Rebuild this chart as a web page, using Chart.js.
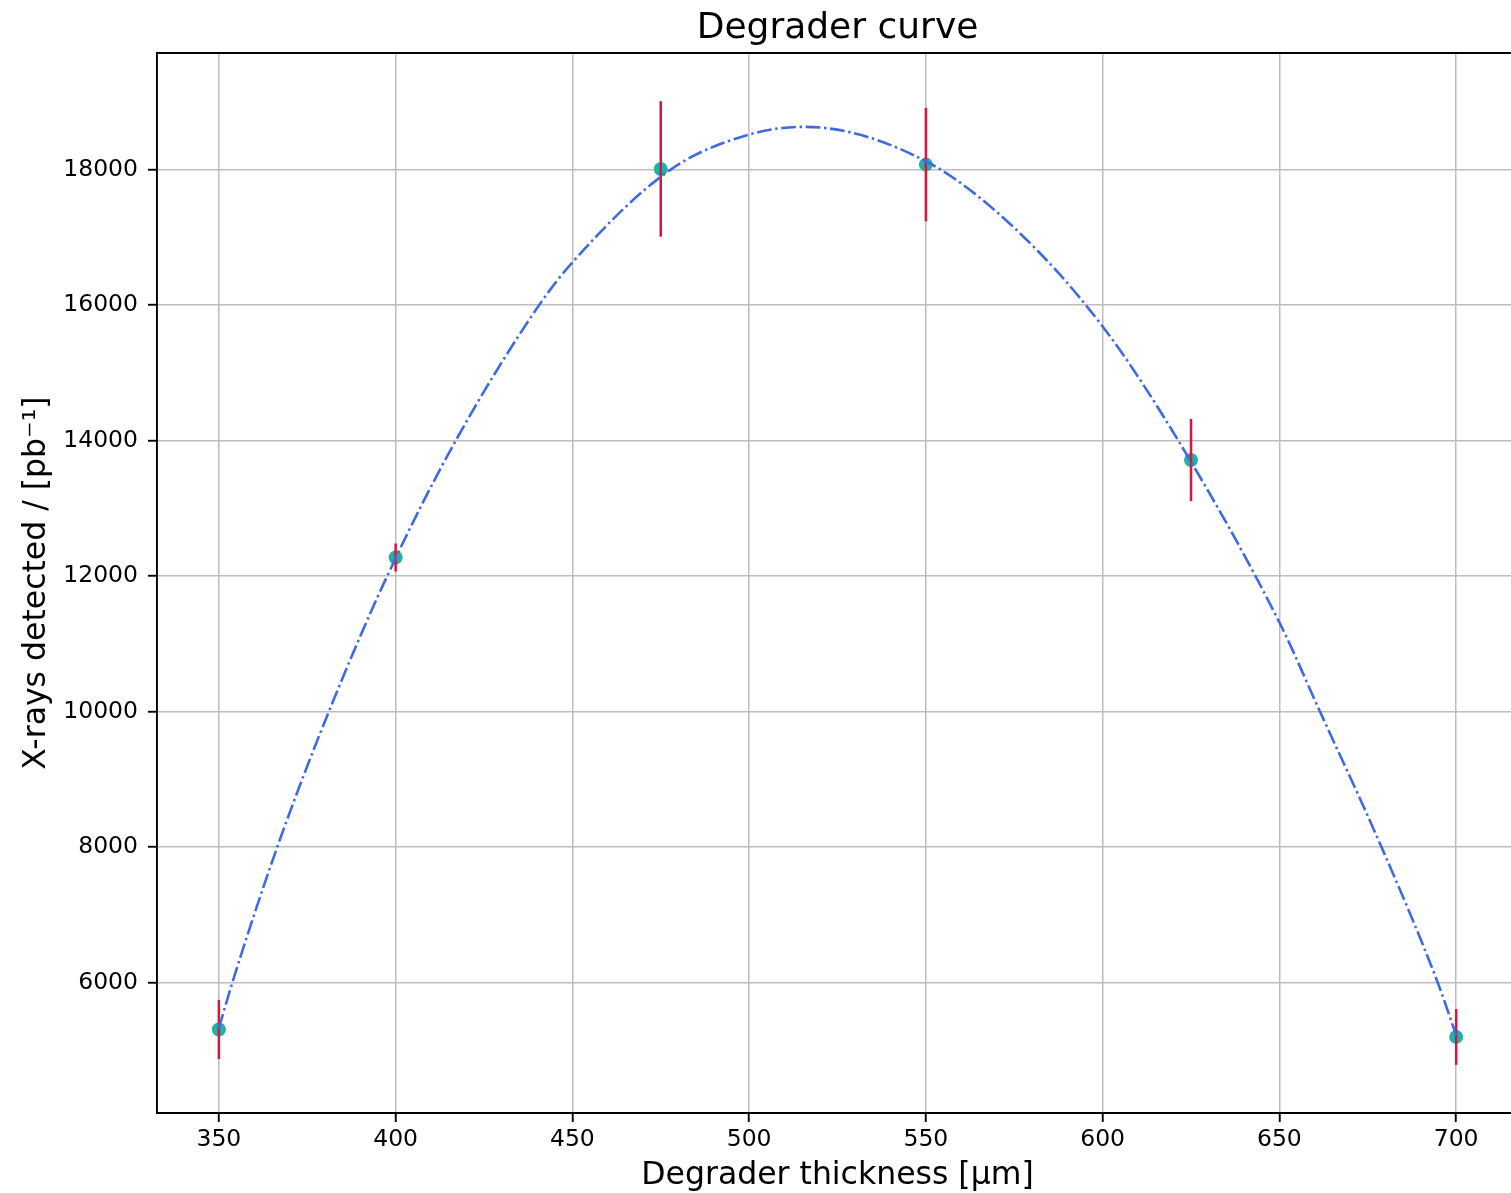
<!DOCTYPE html>
<html>
<head>
<meta charset="utf-8">
<script src="https://cdn.jsdelivr.net/npm/chart.js@4/dist/chart.umd.min.js"></script>
<style>
  html, body { margin: 0; padding: 0; background: #fff; overflow: hidden; }
  #wrap { width: 1511px; height: 1193px; overflow: hidden; }
  #chart { display: block; }
</style>
</head>
<body>
<div id="wrap"><canvas id="chart" width="1518" height="1193"></canvas></div>
<script>
// Measured points: degrader thickness (µm), detected X-rays and their uncertainties
const thickness = [350, 400, 475, 550, 625, 700];
const xrays = [5310, 12275, 18010, 18074, 13714, 5200];
const xraysErr = [437, 207, 1000, 837, 606, 412];

// Fitted curve samples
const fitX = [350, 353.8, 366.5, 381.1, 397.6, 417, 440.6, 450, 477.8, 500, 515.6,
  550, 575, 600, 621.4, 650, 661.5, 678.9, 694.8, 700];
const fitY = [5330, 6000, 8000, 10000, 12000, 14000, 16000, 16631, 18000, 18517, 18631,
  18123, 17140, 15685, 14000, 11317, 10000, 8000, 6000, 5227];

// Axis ticks
const xTicks = [350, 400, 450, 500, 550, 600, 650, 700];
const yTicks = [6000, 8000, 10000, 12000, 14000, 16000, 18000];

const FONT = "'DejaVu Sans', 'Liberation Sans', sans-serif";
Chart.defaults.color = '#000';
Chart.defaults.font.family = FONT;

// Vertical error bars, drawn just after the markers
const errorBars = {
  id: 'errorBars',
  afterDatasetDraw(chart, args) {
    if (args.index !== 1) return;
    const { ctx, scales: { x, y } } = chart;
    ctx.save();
    ctx.strokeStyle = '#DC143C';
    ctx.lineWidth = 2.5;
    ctx.lineCap = 'butt';
    thickness.forEach((t, i) => {
      const px = x.getPixelForValue(t);
      ctx.beginPath();
      ctx.moveTo(px, y.getPixelForValue(xrays[i] + xraysErr[i]));
      ctx.lineTo(px, y.getPixelForValue(xrays[i] - xraysErr[i]));
      ctx.stroke();
    });
    ctx.restore();
  }
};

// Top and right frame lines
const frame = {
  id: 'frame',
  afterDraw(chart) {
    const { ctx, chartArea: a } = chart;
    ctx.save();
    ctx.strokeStyle = '#000';
    ctx.lineWidth = 1.9;
    ctx.beginPath();
    ctx.moveTo(a.left - 1, a.top);
    ctx.lineTo(a.right, a.top);
    ctx.lineTo(a.right, a.bottom);
    ctx.stroke();
    ctx.restore();
  }
};

new Chart(document.getElementById('chart'), {
  type: 'scatter',
  data: {
    datasets: [
      {
        label: 'fit',
        data: fitX.map((v, i) => ({ x: v, y: fitY[i] })),
        showLine: true,
        borderColor: '#4169E1',
        borderWidth: 2.6,
        borderDash: [14.7, 3.7, 2.4, 3.7],
        cubicInterpolationMode: 'monotone',
        pointRadius: 0,
        pointHoverRadius: 0,
        fill: false
      },
      {
        label: 'data',
        data: thickness.map((v, i) => ({ x: v, y: xrays[i] })),
        backgroundColor: '#20B2AA',
        borderColor: '#20B2AA',
        borderWidth: 0,
        pointRadius: 7,
        showLine: false
      }
    ]
  },
  options: {
    responsive: false,
    devicePixelRatio: 1,
    animation: false,
    layout: { autoPadding: false, padding: 0 },
    plugins: {
      legend: { display: false },
      tooltip: { enabled: false },
      title: {
        display: true,
        fullSize: false,
        text: 'Degrader curve',
        color: '#000',
        font: { family: FONT, size: 36, weight: 'normal' },
        padding: { top: 7, bottom: 2.8 }
      }
    },
    scales: {
      x: {
        type: 'linear',
        min: 332.5,
        max: 717.5,
        afterBuildTicks: (s) => { s.ticks = xTicks.map(v => ({ value: v })); },
        afterFit: (s) => { s.height = 80; },
        ticks: {
          font: { family: FONT, size: 23.5 },
          color: '#000',
          padding: 4,
          maxRotation: 0,
          callback: (v) => String(v)
        },
        grid: {
          color: '#bdbdbd',
          lineWidth: 1.5,
          drawTicks: true,
          tickLength: 9,
          tickColor: '#000',
          tickWidth: 1.9
        },
        border: { display: true, color: '#000', width: 1.9 },
        title: {
          display: true,
          text: 'Degrader thickness [µm]',
          color: '#000',
          font: { family: FONT, size: 31.5, weight: 'normal' },
          padding: { top: 0, bottom: -2 }
        }
      },
      y: {
        type: 'linear',
        min: 4077,
        max: 19721,
        afterBuildTicks: (s) => { s.ticks = yTicks.map(v => ({ value: v })); },
        afterFit: (s) => { s.width = 157; },
        ticks: {
          font: { family: FONT, size: 23.5 },
          color: '#000',
          padding: 10,
          callback: (v) => String(v)
        },
        grid: {
          color: '#bdbdbd',
          lineWidth: 1.5,
          drawTicks: true,
          tickLength: 9,
          tickColor: '#000',
          tickWidth: 1.9
        },
        border: { display: true, color: '#000', width: 1.9 },
        title: {
          display: true,
          text: 'X-rays detected / [pb⁻¹]',
          color: '#000',
          font: { family: FONT, size: 31.5, weight: 'normal' },
          padding: { top: 17.5, bottom: 0 }
        }
      }
    }
  },
  plugins: [errorBars, frame]
});
</script>
</body>
</html>
